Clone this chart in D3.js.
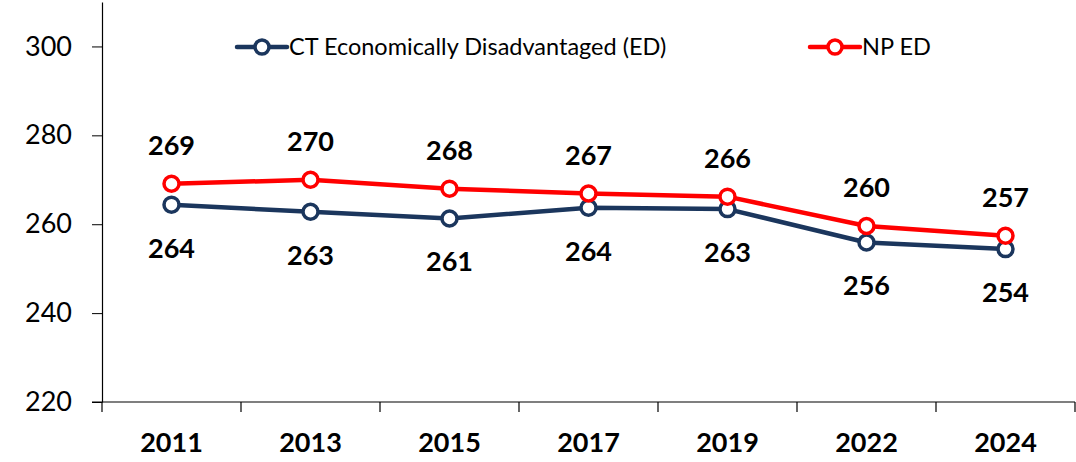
<!DOCTYPE html>
<html>
<head>
<meta charset="utf-8">
<script src="https://cdn.jsdelivr.net/npm/d3@7"></script>
<style>
  body { margin: 0; background: #fff; }
  svg { display: block; font-family: Lato, "Open Sans", sans-serif; }
</style>
</head>
<body>
<div id="chart"></div>
<script>
const years = ['2011', '2013', '2015', '2017', '2019', '2022', '2024'];
const ctED = [264.4, 262.8, 261.3, 263.7, 263.4, 255.9, 254.4];
const npED = [269.1, 270.0, 268.0, 266.9, 266.2, 259.6, 257.4];
const yTicks = [220, 240, 260, 280, 300];
const seriesNames = ['CT Economically Disadvantaged (ED)', 'NP ED'];

const width = 1076, height = 462;
const margin = {top: 2, right: 1, bottom: 60, left: 102};

const svg = d3.select('#chart').append('svg')
  .attr('width', width)
  .attr('height', height);

const x = d3.scaleBand()
  .domain(years)
  .range([margin.left, width - margin.right]);

const y = d3.scaleLinear()
  .domain([220, 310])
  .range([height - margin.bottom, margin.top]);

// y axis
const yAxis = svg.append('g')
  .attr('transform', `translate(${margin.left},0)`)
  .call(d3.axisLeft(y).tickValues(yTicks).tickSize(10).tickSizeOuter(0).tickPadding(20));
yAxis.select('.domain').attr('stroke', '#000').attr('stroke-width', 1.2);
yAxis.selectAll('.tick line').attr('stroke', '#000');
yAxis.selectAll('.tick text')
  .attr('font-size', 27)
  .attr('font-family', 'Lato, sans-serif')
  .attr('fill', '#000');

// x axis
const xAxis = svg.append('g')
  .attr('transform', `translate(0,${y(220)})`)
  .call(d3.axisBottom(x).tickSize(0).tickPadding(31));
xAxis.select('.domain').remove();
svg.append('line')
  .attr('x1', margin.left - 10).attr('x2', width - margin.right)
  .attr('y1', y(220)).attr('y2', y(220))
  .attr('stroke', '#000').attr('stroke-width', 1.2);
// boundary ticks between categories
const bounds = years.map(d => x(d)).concat([x(years[years.length - 1]) + x.bandwidth()]);
svg.selectAll('.bound')
  .data(bounds)
  .enter().append('line')
  .attr('x1', d => d).attr('x2', d => d)
  .attr('y1', y(220)).attr('y2', y(220) + 10)
  .attr('stroke', '#000').attr('stroke-width', 1.2);
xAxis.selectAll('.tick text')
  .attr('font-size', 27)
  .attr('font-weight', 'bold')
  .attr('font-family', 'Lato, sans-serif')
  .attr('fill', '#000');

const cx = d => x(d) + x.bandwidth() / 2;
const line = d3.line()
  .x((d, i) => cx(years[i]))
  .y(d => y(d));

const series = [
  {name: seriesNames[0], values: ctED, color: '#1b365d', dy: 53},
  {name: seriesNames[1], values: npED, color: '#ff0000', dy: -29}
];

series.forEach(s => {
  svg.append('path')
    .datum(s.values)
    .attr('d', line)
    .attr('fill', 'none')
    .attr('stroke', s.color)
    .attr('stroke-width', 4.5)
    .attr('stroke-linejoin', 'round');
});

series.forEach(s => {
  svg.selectAll(null)
    .data(s.values)
    .enter().append('circle')
    .attr('cx', (d, i) => cx(years[i]))
    .attr('cy', d => y(d))
    .attr('r', 7.5)
    .attr('fill', '#fff')
    .attr('stroke', s.color)
    .attr('stroke-width', 3.5);

  svg.selectAll(null)
    .data(s.values)
    .enter().append('text')
    .attr('x', (d, i) => cx(years[i]))
    .attr('y', d => y(d) + s.dy)
    .attr('text-anchor', 'middle')
    .attr('font-size', 27)
    .attr('font-weight', 'bold')
    .attr('fill', '#000')
    .text(d => Math.round(d));
});

// legend
const legendItems = [
  {x: 237, color: series[0].color, name: series[0].name},
  {x: 810, color: series[1].color, name: series[1].name}
];
const legendY = 47;
legendItems.forEach(l => {
  const g = svg.append('g');
  g.append('line')
    .attr('x1', l.x).attr('x2', l.x + 50)
    .attr('y1', legendY).attr('y2', legendY)
    .attr('stroke', l.color).attr('stroke-width', 4.5)
    .attr('stroke-linecap', 'round');
  g.append('circle')
    .attr('cx', l.x + 25).attr('cy', legendY).attr('r', 7)
    .attr('fill', '#fff').attr('stroke', l.color).attr('stroke-width', 3.5);
  g.append('text')
    .attr('x', l.x + 52).attr('y', legendY + 8)
    .attr('font-size', 23.5)
    .attr('fill', '#000')
    .text(l.name);
});
</script>
</body>
</html>
